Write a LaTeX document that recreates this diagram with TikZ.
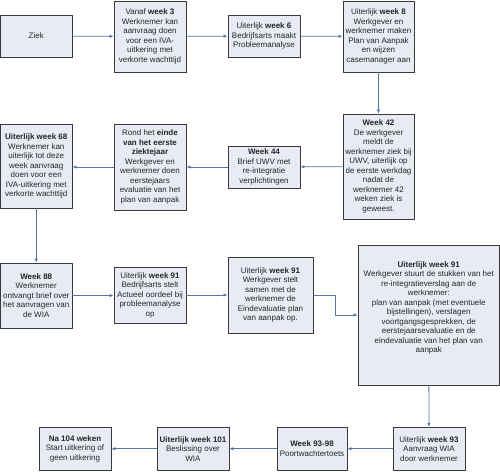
\documentclass[tikz,border=0pt]{standalone}
\usepackage{fontspec}
\setmainfont{Liberation Sans}
\usetikzlibrary{arrows.meta}
\definecolor{boxfill}{HTML}{E8EBF3}
\definecolor{boxline}{HTML}{3A3A3A}
\definecolor{arrowc}{HTML}{4F78A6}
\tikzset{
  stepbox/.style={draw=boxline, line width=0.9pt, fill=boxfill, rectangle, align=center,
    inner sep=0pt, font=\fontsize{8}{9.5}\selectfont, text=black!85},
  conn/.style={draw=arrowc, line width=0.8pt, -{Latex[length=4pt,width=3.5pt]}}
}
\begin{document}
\begin{tikzpicture}[x=1pt,y=-1pt]
\useasboundingbox (0,0) rectangle (500,471);
% row 1
\node[stepbox, minimum width=71.5pt, minimum height=42pt] (ziek) at (36.25,36) {Ziek};
\node[stepbox, minimum width=72pt, minimum height=71pt] (w3) at (150,36.5)
  {Vanaf \textbf{week 3}\\Werknemer kan\\aanvraag doen\\voor een IVA-\\uitkering met\\verkorte wachttijd};
\node[stepbox, minimum width=72pt, minimum height=42pt] (w6) at (264,36)
  {Uiterlijk \textbf{week 6}\\Bedrijfsarts maakt\\Probleemanalyse};
\node[stepbox, minimum width=71pt, minimum height=71pt] (w8) at (378.5,36.5)
  {Uiterlijk \textbf{week 8}\\Werkgever en\\werknemer maken\\Plan van Aanpak\\en wijzen\\casemanager aan};
% row 2
\node[stepbox, minimum width=71pt, minimum height=105pt] (w42) at (378.5,166.5)
  {\textbf{Week 42}\\De werkgever\\meldt de\\werknemer ziek bij\\UWV, uiterlijk op\\de eerste werkdag\\nadat de\\werknemer 42\\weken ziek is\\geweest.};
\node[stepbox, minimum width=72pt, minimum height=42pt] (w44) at (264,167)
  {\textbf{Week 44}\\Brief UWV met\\re-integratie\\verplichtingen};
\node[stepbox, minimum width=72pt, minimum height=86pt] (einde) at (150,167)
  {Rond het \textbf{einde}\\\textbf{van het eerste}\\\textbf{ziektejaar}\\Werkgever en\\werknemer doen\\eerstejaars\\evaluatie van het\\plan van aanpak};
\node[stepbox, minimum width=71.5pt, minimum height=84pt] (w68) at (36.25,166)
  {\textbf{Uiterlijk week 68}\\Werknemer kan\\uiterlijk tot deze\\week aanvraag\\doen voor een\\IVA-uitkering met\\verkorte wachttijd};
% row 3
\node[stepbox, minimum width=71.5pt, minimum height=65pt] (w88) at (36.25,295.5)
  {\textbf{Week 88}\\Werknemer\\ontvangt brief over\\het aanvragen van\\de WIA};
\node[stepbox, minimum width=72pt, minimum height=56pt] (w91a) at (150,295)
  {Uiterlijk \textbf{week 91}\\Bedrijfsarts stelt\\Actueel oordeel bij\\probleemanalyse\\op};
\node[stepbox, minimum width=85pt, minimum height=76pt] (w91b) at (270.5,295)
  {Uiterlijk \textbf{week 91}\\Werkgever stelt\\samen met de\\werknemer de\\Eindevaluatie plan\\van aanpak op.};
\node[stepbox, minimum width=141.5pt, minimum height=140pt] (big) at (428.75,315)
  {\textbf{Uiterlijk week 91}\\Werkgever stuurt de stukken van het\\re-integratieverslag aan de\\werknemer:\\plan van aanpak (met eventuele\\bijstellingen), verslagen\\voortgangsgesprekken, de\\eerstejaarsevaluatie en de\\eindevaluatie van het plan van\\aanpak\\[6pt]};
% row 4
\node[stepbox, minimum width=72pt, minimum height=43pt] (w93) at (429,448.75)
  {Uiterlijk \textbf{week 93}\\Aanvraag WIA\\door werknemer};
\node[stepbox, minimum width=70pt, minimum height=43pt] (w9398) at (312,448.75)
  {\textbf{Week 93-98}\\Poortwachtertoets};
\node[stepbox, minimum width=72pt, minimum height=43pt] (w101) at (193,448.75)
  {\textbf{Uiterlijk week 101}\\Beslissing over\\WIA};
\node[stepbox, minimum width=72pt, minimum height=43pt] (na104) at (75,448.75)
  {\textbf{Na 104 weken}\\Start uitkering of\\geen uitkering};
% connectors
\draw[conn] (ziek) -- (w3);
\draw[conn] (w3) -- (w6);
\draw[conn] (w6) -- (w8);
\draw[conn] (w8) -- (w42);
\draw[conn] (w42) -- (w44);
\draw[conn] (w44) -- (einde);
\draw[conn] (einde.west) -- (einde.west -| w68.east);
\draw[conn] (w68) -- (w88);
\draw[conn] (w88.east) -- (w88.east -| w91a.west);
\draw[conn] (w91a) -- (w91b);
\draw[conn] (w91b.east) -- ++(22,0) |- (big.west);
\draw[conn] (big) -- (w93);
\draw[conn] (w93) -- (w9398);
\draw[conn] (w9398) -- (w101);
\draw[conn] (w101) -- (na104);
\end{tikzpicture}
\end{document}
